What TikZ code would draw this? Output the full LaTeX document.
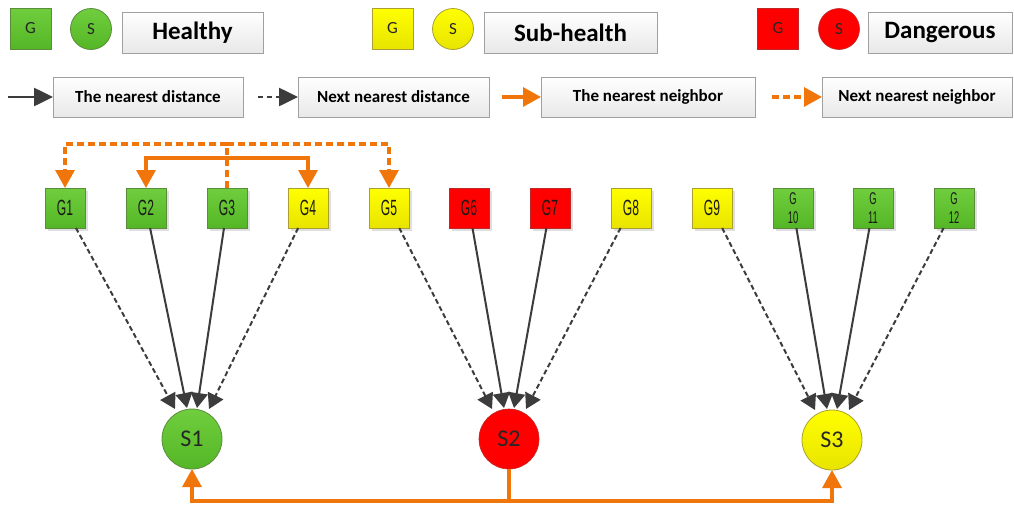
\documentclass[tikz,border=0pt]{standalone}
\usepackage{fontspec}
\setmainfont{Carlito}
\newfontfamily\gfont[FakeStretch=0.55]{Liberation Sans}
\usetikzlibrary{arrows.meta,calc,shadows}
\definecolor{gtop}{RGB}{112,206,62}
\definecolor{gbot}{RGB}{84,182,38}
\definecolor{gline}{RGB}{90,140,60}
\definecolor{ytop}{RGB}{255,255,0}
\definecolor{ybot}{RGB}{232,228,0}
\definecolor{yline}{RGB}{170,160,50}
\definecolor{rfill}{RGB}{255,0,0}
\definecolor{rline}{RGB}{190,40,40}
\definecolor{boxline}{RGB}{160,160,160}
\definecolor{boxbot}{RGB}{232,232,232}
\definecolor{darkarr}{RGB}{60,60,60}
\definecolor{orng}{RGB}{240,118,12}
\tikzset{
  shd/.style={drop shadow={shadow xshift=3pt,shadow yshift=-3pt,opacity=0.25,fill=gray}},
  gbox/.style={rectangle,minimum width=40pt,minimum height=40pt,inner sep=0pt,outer sep=0pt,font=\gfont\fontsize{22}{19}\selectfont,align=center,text=black!90},
  gtwo/.style={font=\gfont\fontsize{17}{18.5}\selectfont},
  ggreen/.style={gbox,top color=gtop,bottom color=gbot,draw=gline,line width=0.8pt,shd},
  gyellow/.style={gbox,top color=ytop,bottom color=ybot,draw=yline,line width=0.8pt,shd},
  gred/.style={gbox,fill=rfill,draw=rline,line width=0.6pt,shd},
  lsq/.style={rectangle,minimum width=41pt,minimum height=41pt,inner sep=0pt,outer sep=0pt,font=\fontsize{17}{17}\selectfont,text=black!85},
  lcirc/.style={circle,minimum size=41pt,inner sep=0pt,outer sep=0pt,font=\fontsize{17}{17}\selectfont,text=black!85},
  bigcirc/.style={circle,minimum size=60pt,inner sep=0pt,outer sep=0pt,font=\fontsize{24}{24}\selectfont,text=black!85},
  cgreen/.style={top color=gtop,bottom color=gbot,draw=gline,line width=0.8pt},
  cyellow/.style={top color=ytop,bottom color=ybot,draw=yline,line width=0.8pt},
  cred/.style={fill=rfill,draw=rline,line width=0.6pt},
  legbox/.style={rectangle,top color=white,bottom color=boxbot,draw=boxline,line width=0.8pt,inner sep=0pt,outer sep=0pt,font=\bfseries\fontsize{17}{17}\selectfont},
  bigleg/.style={legbox,font=\bfseries\fontsize{25}{25}\selectfont,minimum height=41pt},
  smallleg/.style={legbox,minimum height=40pt},
  darrs/.style={draw=darkarr,line width=2pt,-{Triangle[length=15pt,width=17pt]}},
  darrd/.style={darrs,dash pattern=on 5pt off 3pt},
  legdarr/.style={draw=darkarr,line width=2.6pt,-{Triangle[length=19pt,width=18pt]}},
  legdarrd/.style={legdarr,dash pattern=on 5pt off 4pt},
  oline/.style={draw=orng,line width=3.2pt},
  olined/.style={oline,dash pattern=on 7pt off 4pt},
  oarr/.style={oline,-{Triangle[length=18pt,width=19pt]}},
  oarrd/.style={olined,-{Triangle[length=18pt,width=19pt]}},
}
\begin{document}
\begin{tikzpicture}[x=1pt,y=-1pt]
\useasboundingbox[fill=white] (0,0) rectangle (1014,504);
% legend row 1
\node[lsq,cgreen] (LG1) at (30.5,28.5) {G};
\node[lcirc,cgreen] (LS1) at (91,29) {S};
\node[bigleg,minimum width=141pt] (LH) at (192.5,32.5) {Healthy};
\node[lsq,cyellow] (LG2) at (392.5,28.5) {G};
\node[lcirc,cyellow] (LS2) at (453,29) {S};
\node[bigleg,minimum width=173pt] (LSH) at (570.5,32.5) {Sub-health};
\node[lsq,cred] (LG3) at (778,28.5) {G};
\node[lcirc,cred] (LS3) at (839,29) {S};
\node[bigleg,minimum width=144pt] (LD) at (940,32.5) {Dangerous};
% legend row 2
\node[smallleg,minimum width=190pt] (B1) at (148,97) {The nearest distance};
\node[smallleg,minimum width=191pt] (B2) at (393.5,97) {Next nearest distance};
\node[smallleg,minimum width=214pt] (B3) at (648,97) {The nearest neighbor};
\node[smallleg,minimum width=190pt] (B4) at (917,97) {Next nearest neighbor};
\coordinate (A1) at (8,97);
\coordinate (A2) at (258,97);
\coordinate (A3) at (502,97);
\coordinate (A4) at (772,97);
\draw[legdarr] (A1) -- (B1.west);
\draw[legdarrd] (A2) -- (B2.west);
\draw[oarr] (A3) -- (B3.west);
\draw[oarrd] (A4) -- (B4.west);
% G nodes
\node[ggreen] (G1) at (65,208) {G1};
\node[ggreen] (G2) at (146,208) {G2};
\node[ggreen] (G3) at (227,208) {G3};
\node[gyellow] (G4) at (308,208) {G4};
\node[gyellow] (G5) at (389,208) {G5};
\node[gred] (G6) at (469,208) {G6};
\node[gred] (G7) at (550,208) {G7};
\node[gyellow] (G8) at (631,208) {G8};
\node[gyellow] (G9) at (712,208) {G9};
\node[ggreen,gtwo] (G10) at (793,208) {G\\10};
\node[ggreen,gtwo] (G11) at (873,208) {G\\11};
\node[ggreen,gtwo] (G12) at (954,208) {G\\12};
% S nodes
\node[bigcirc,cgreen] (S1) at (192,439) {S1};
\node[bigcirc,cred] (S2) at (509,439) {S2};
\node[bigcirc,cyellow] (S3) at (832,440) {S3};
% targets
\foreach \s in {1,2,3}{
  \coordinate (T\s a) at ($(S\s.center)+(-17,-30)$);
  \coordinate (T\s b) at ($(S\s.center)+(-5,-31)$);
  \coordinate (T\s c) at ($(S\s.center)+(5,-31)$);
  \coordinate (T\s d) at ($(S\s.center)+(17,-30)$);
}
\draw[darrd] (G1) -- (T1a);
\draw[darrs] (G2) -- (T1b);
\draw[darrs] (G3) -- (T1c);
\draw[darrd] (G4) -- (T1d);
\draw[darrd] (G5) -- (T2a);
\draw[darrs] (G6) -- (T2b);
\draw[darrs] (G7) -- (T2c);
\draw[darrd] (G8) -- (T2d);
\draw[darrd] (G9) -- (T3a);
\draw[darrs] (G10) -- (T3b);
\draw[darrs] (G11) -- (T3c);
\draw[darrd] (G12) -- (T3d);
% top orange connectors
\coordinate (TopD) at (227,144);
\coordinate (TopS) at (227,158);
\draw[olined] (G3.north) -- (TopD);
\draw[oarrd] (TopD) -| (G1.north);
\draw[oarrd] (TopD) -| (G5.north);
\draw[oarr] (TopS) -| (G2.north);
\draw[oarr] (TopS) -| (G4.north);
% bottom orange connectors
\coordinate (Bot) at (509,501);
\draw[oline] (S2.south) -- (Bot);
\draw[oarr] (Bot) -| (S1.south);
\draw[oarr] (Bot) -| (S3.south);
\end{tikzpicture}
\end{document}
